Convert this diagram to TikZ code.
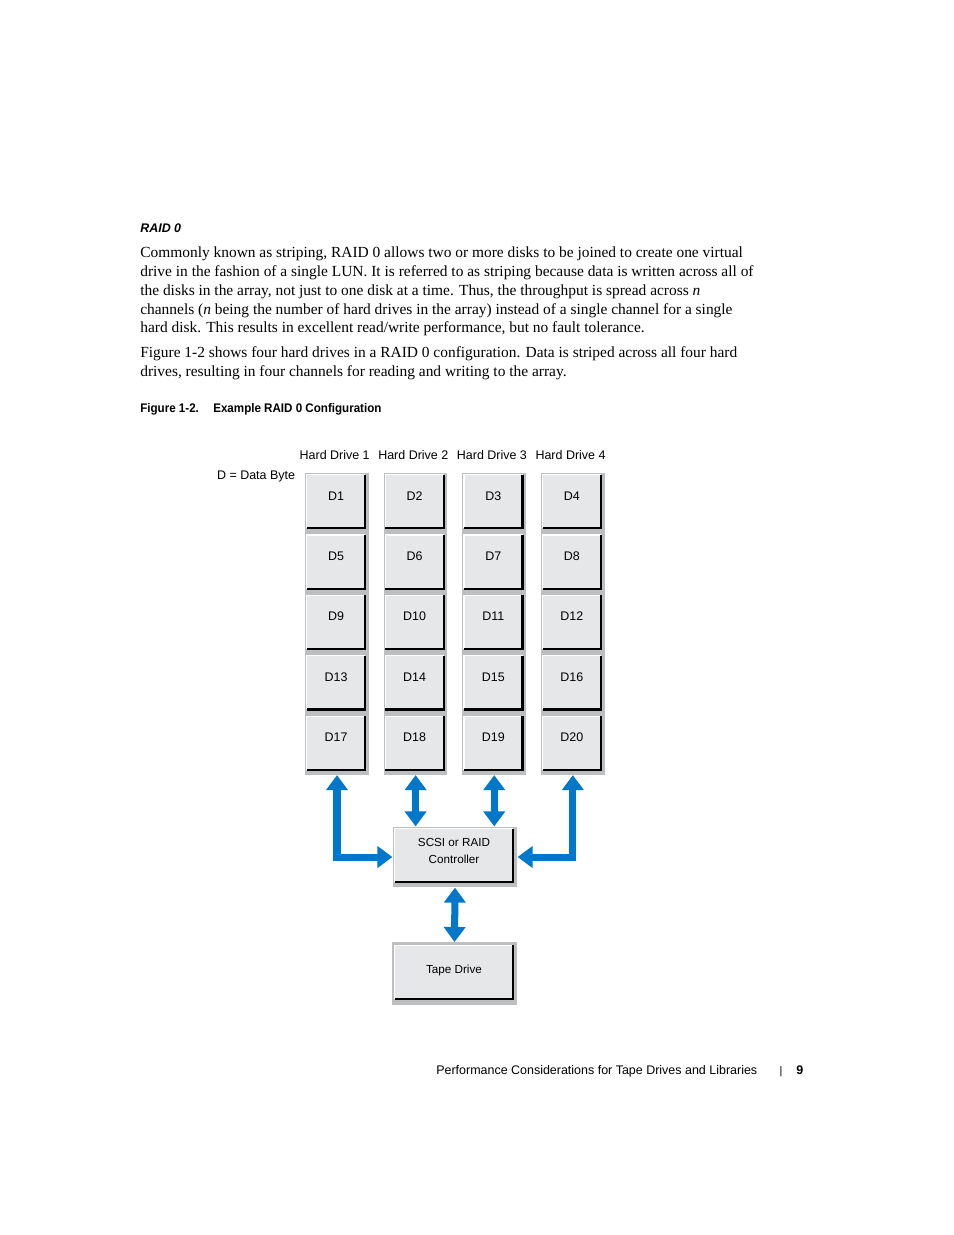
\documentclass[tikz,border=0pt]{standalone}
\usepackage{fontspec}
\setmainfont{Liberation Serif}
\setsansfont{Liberation Sans}
\newfontfamily\capfont[FakeStretch=0.93]{Liberation Sans}
\usetikzlibrary{positioning,fit,backgrounds,arrows.meta}

\definecolor{stripgray}{HTML}{BCBEC0}
\definecolor{boxgray}{HTML}{E6E7E8}
\definecolor{linkblue}{HTML}{0077C8}
\def\px{0.64151pt}

\begin{document}
\begin{tikzpicture}[
  x=\px, y=-\px,
  font=\sffamily\fontsize{8}{9.6}\selectfont,
  node distance=4.33pt and 12.83pt,
  drive/.style={fill=boxgray, inner sep=0pt, minimum width=58*\px, minimum height=53*\px, text height=5.8pt, text depth=7.7pt},
  unit/.style={fill=boxgray, inner sep=0pt, minimum width=118*\px, minimum height=53*\px, align=center, font=\sffamily\fontsize{7.5}{10.9}\selectfont},
  strip/.style={fill=stripgray, inner sep=0pt},
  hdlabel/.style={inner sep=0pt, xshift=-1.5pt},
  plain/.style={inner sep=0pt},
  body/.style={font=\rmfamily\fontsize{9.9}{12}\selectfont, align=left, inner sep=0pt},
  caption/.style={inner sep=0pt, anchor=base west, font=\capfont\bfseries\fontsize{8}{9.6}\selectfont},
  link/.style={<->, >={Triangle[width=13.5pt,length=9.6pt]}, draw=linkblue, line width=4.5pt}
]
\useasboundingbox (0,0) rectangle (954,1235);

% page text
\node[plain, anchor=base west, font=\sffamily\bfseries\itshape\fontsize{8}{9.6}\selectfont] (head) at (140,232.3) {RAID 0};
\node[body, anchor=north west] (para1) at (140,246.9) {Commonly known as striping, RAID 0 allows two or more disks to be joined to create one virtual\\
drive in the fashion of a single LUN. It is referred to as striping because data is written across all of\\
the disks in the array, not just to one disk at a time. Thus, the throughput is spread across \textit{n}\\
channels (\textit{n} being the number of hard drives in the array) instead of a single channel for a single\\
hard disk. This results in excellent read/write performance, but no fault tolerance.};
\node[body, anchor=north west] (para2) at (140,346.4) {Figure 1-2 shows four hard drives in a RAID 0 configuration. Data is striped across all four hard\\
drives, resulting in four channels for reading and writing to the array.};
\node[caption] (fig) at (140,412.3) {Figure 1-2.};
\node[caption] (figtitle) at (213,412.3) {Example RAID 0 Configuration};

% data bytes
\node[drive] (d1) at (336,501.5) {D1};
\node[drive, right=of d1] (d2) {D2};
\node[drive, right=of d2] (d3) {D3};
\node[drive, right=of d3] (d4) {D4};
\node[drive, below=of d1] (d5) {D5};
\node[drive, below=of d2] (d6) {D6};
\node[drive, below=of d3] (d7) {D7};
\node[drive, below=of d4] (d8) {D8};
\node[drive, below=of d5] (d9) {D9};
\node[drive, below=of d6] (d10) {D10};
\node[drive, below=of d7] (d11) {D11};
\node[drive, below=of d8] (d12) {D12};
\node[drive, below=of d9] (d13) {D13};
\node[drive, below=of d10] (d14) {D14};
\node[drive, below=of d11] (d15) {D15};
\node[drive, below=of d12] (d16) {D16};
\node[drive, below=of d13] (d17) {D17};
\node[drive, below=of d14] (d18) {D18};
\node[drive, below=of d15] (d19) {D19};
\node[drive, below=of d16] (d20) {D20};

\node[unit, text depth=6pt] (ctrl) at (454,855.5) {SCSI or RAID\\Controller};
\node[unit, below=40.4pt of ctrl, text depth=3.5pt] (tape) {Tape Drive};

% bevelled edges
\foreach \i in {1,...,20} {
  \draw[white, line width=0.8pt] (d\i.south west) |- (d\i.north east);
  \draw[line width=1.5pt] (d\i.north east) |- (d\i.south west);
}
\foreach \n in {ctrl,tape} {
  \draw[white, line width=0.8pt] (\n.south west) |- (\n.north east);
  \draw[line width=1.5pt] (\n.north east) |- (\n.south west);
}

% gray frames behind
\begin{scope}[on background layer]
\fill[white] (0,0) rectangle (954,1235);
\node[strip, fit={([shift={(-1.5,-2)}]d1.north west) ([shift={(3.5,5)}]d17.south east)}] (hd1) {};
\node[strip, fit={([shift={(-1.5,-2)}]d2.north west) ([shift={(3.5,5)}]d18.south east)}] (hd2) {};
\node[strip, fit={([shift={(-1.5,-2)}]d3.north west) ([shift={(3.5,5)}]d19.south east)}] (hd3) {};
\node[strip, fit={([shift={(-1.5,-2)}]d4.north west) ([shift={(3.5,5)}]d20.south east)}] (hd4) {};
\node[strip, fit={([shift={(-2,-2)}]ctrl.north west) ([shift={(4,5)}]ctrl.south east)}] (ctrlf) {};
\node[strip, fit={([shift={(-3,-3)}]tape.north west) ([shift={(4,6)}]tape.south east)}] (tapef) {};
\end{scope}

\node[hdlabel, above=8.3pt of hd1] (hdl1) {Hard Drive 1};
\node[hdlabel, above=8.3pt of hd2] (hdl2) {Hard Drive 2};
\node[hdlabel, above=8.3pt of hd3] (hdl3) {Hard Drive 3};
\node[hdlabel, above=8.3pt of hd4] (hdl4) {Hard Drive 4};
\node[plain, anchor=base east] (key) at ([shift={(-9.5,7)}]hd1.north west) {D = Data Byte};

\draw[link] (hd1.south) |- (ctrlf.west);
\draw[link] (hd2.south) -- (hd2.south |- ctrlf.north);
\draw[link] (hd3.south) -- (hd3.south |- ctrlf.north);
\draw[link] (hd4.south) |- (ctrlf.east);
\draw[link] (ctrlf.south) -- (tapef.north);

% footer
\node[plain, anchor=base west] (foot) at (436,1074) {Performance Considerations for Tape Drives and Libraries};
\node[plain, anchor=base, font=\sffamily\fontsize{7}{8}\selectfont] (bar) at (781,1074) {|};
\node[plain, anchor=base west, font=\sffamily\bfseries\fontsize{8}{9.6}\selectfont] (page) at (796,1074) {9};
\end{tikzpicture}
\end{document}
